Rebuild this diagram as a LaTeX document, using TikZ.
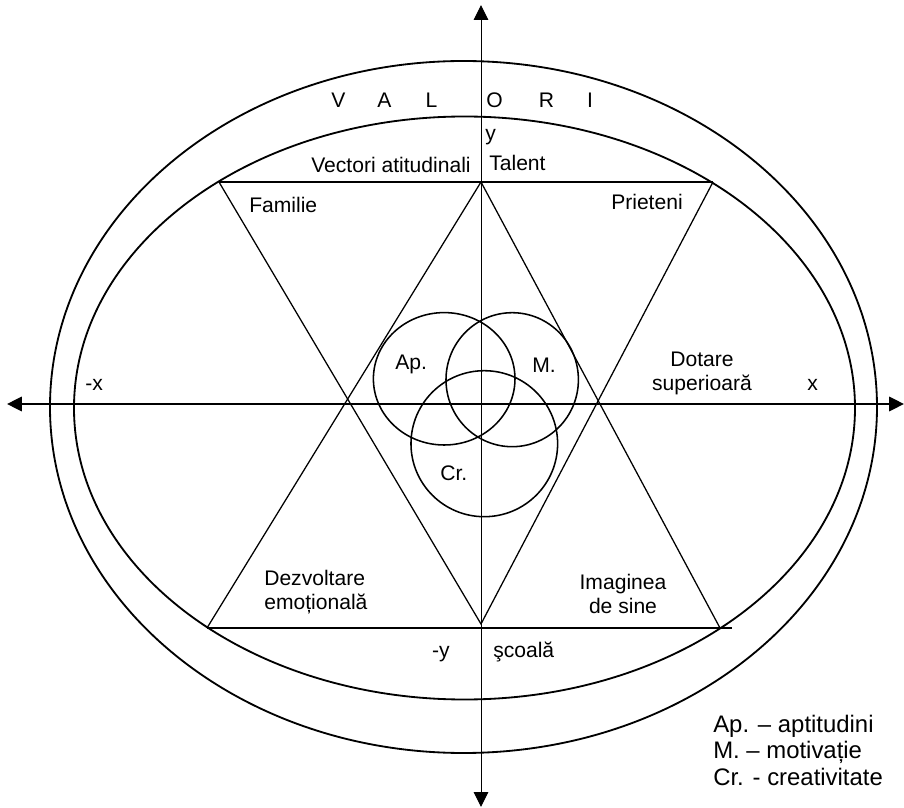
\documentclass[tikz,border=0pt]{standalone}
\usepackage{fontspec}
\setmainfont{Liberation Sans}
\usepackage{tikz}
\usetikzlibrary{arrows.meta}

\begin{document}
\begin{tikzpicture}[
    lbl/.style={inner sep=0pt, font=\fontsize{15}{17}\selectfont},
    legend/.style={inner sep=0pt, align=left, font=\fontsize{17}{18.85}\selectfont},
    axis/.style={>={Triangle[length=3.7mm,width=3.6mm]}, line width=0.7pt},
    ring/.style={line width=1.3pt},
    tri/.style={line width=0.9pt},
    tribase/.style={line width=1.2pt},
    venn/.style={line width=1.1pt}
  ]
    \useasboundingbox (-12.025,-10.075) rectangle (10.575,10.1);

    \draw[ring] (-0.4375,-0.075) ellipse [x radius=10.3375, y radius=8.65];
    \draw[ring] (-0.4125,-0.1) ellipse [x radius=9.7625, y radius=7.2875];

    \coordinate (tl) at (-6.55,5.55);
    \coordinate (tr) at (5.8,5.55);
    \coordinate (bm) at (0,-5.5);
    \coordinate (tm) at (0,5.55);
    \coordinate (bl) at (-6.85,-5.6);
    \coordinate (br) at (5.975,-5.6);
    \coordinate (be) at (6.27,-5.6);
    \draw[tribase] (tl) -- (tr);
    \draw[tribase] (bl) -- (be);
    \draw[tri] (tl) -- (bm) -- (tr);
    \draw[tri] (bl) -- (tm) -- (br);

    \draw[venn] (-0.92,0.63) ellipse [x radius=1.77, y radius=1.655];
    \draw[venn] (0.78,0.6075) ellipse [x radius=1.655, y radius=1.675];
    \draw[venn] (0.0825,-0.9925) ellipse [x radius=1.833, y radius=1.825];

    \coordinate (xl) at (-11.85,0);
    \coordinate (xr) at (10.575,0);
    \coordinate (yb) at (0,-10.075);
    \coordinate (yt) at (0,9.975);
    \draw[axis, <->, line width=1.3pt] (xl) -- (xr);
    \draw[axis, <->] (yb) -- (yt);

    \foreach \ch/\xx [count=\i] in {V/-3.5625, A/-2.4125, L/-1.2375, O/0.3375, R/1.6375, I/2.725}
      \node[lbl, anchor=base] (val\i) at (\xx,7.4) {\ch};

    \node[lbl, anchor=base west] (ylab) at (0.1,6.575) {y};
    \node[lbl, anchor=base east] (vect) at (-0.25,5.775) {Vectori atitudinali};
    \node[lbl, anchor=base west] (talent) at (0.2,5.825) {Talent};
    \node[lbl, anchor=base west] (fam) at (-5.8,4.775) {Familie};
    \node[lbl, anchor=base] (prieteni) at (4.15,4.85) {Prieteni};
    \node[lbl, anchor=base west] (ap) at (-2.15,0.85) {Ap.};
    \node[lbl, anchor=base west] (mot) at (1.275,0.775) {M.};
    \node[lbl, anchor=base west] (cr) at (-1.025,-1.9) {Cr.};
    \node[lbl, anchor=base west] (mx) at (-9.9,0.325) {-x};
    \node[lbl, anchor=base west] (px) at (8.15,0.325) {x};
    \node[lbl, align=center, anchor=north] (dotare) at (5.525,1.3) {Dotare\\superioară};
    \node[lbl, align=left, anchor=north west] (dezv) at (-5.425,-4.15) {Dezvoltare\\emoțională};
    \node[lbl, align=center, anchor=north] (imag) at (3.55,-4.25) {Imaginea\\de sine};
    \node[lbl, anchor=base east] (my) at (-0.775,-6.325) {-y};
    \node[lbl, anchor=base west] (scoala) at (0.3,-6.325) {şcoală};
    \node[legend, anchor=north west] (leg) at (5.8,-7.77) {Ap. – aptitudini\\M. – motivație\\Cr. - creativitate};
\end{tikzpicture}
\end{document}
